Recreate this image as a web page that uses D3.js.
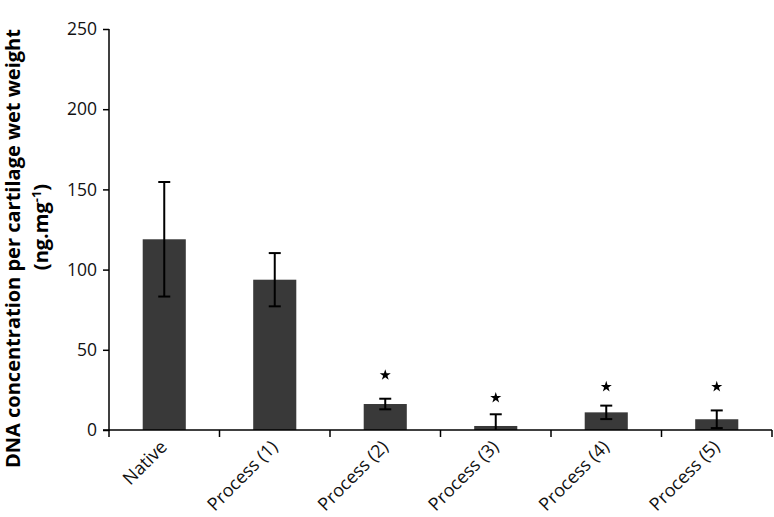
<!DOCTYPE html>
<html><head><meta charset="utf-8">
<script src="https://cdn.jsdelivr.net/npm/d3@7"></script>
<style>body{margin:0;background:#fff;}svg{display:block;}</style>
</head><body>
<svg id="c" width="774" height="517"></svg>
<script>
const categories = ["Native","Process (1)","Process (2)","Process (3)","Process (4)","Process (5)"];
const means = [118.9, 93.7, 16.2, 2.5, 11.0, 6.7];
const errors = [35.7, 16.6, 3.3, 7.3, 4.2, 5.5];
const starLevels = [null, null, 34.3, 20.1, 27.0, 27.0];
const yTicks = [0, 50, 100, 150, 200, 250];

const svg = d3.select("#c");
const font = "'Open Sans', sans-serif";
const x = d3.scaleBand().domain(categories).range([109, 772]).paddingInner(0).paddingOuter(0);
const y = d3.scaleLinear().domain([0, 250]).range([430, 29]);
const barW = x.bandwidth() * 0.39;

// bars
svg.append("g").selectAll("rect").data(categories).join("rect")
  .attr("x", (d) => x(d) + x.bandwidth()/2 - barW/2)
  .attr("y", (d,i) => y(means[i]))
  .attr("width", barW)
  .attr("height", (d,i) => y(0) - y(means[i]))
  .attr("fill", "#393939");

// error bars
const eg = svg.append("g").attr("stroke", "#000").attr("stroke-width", 2);
categories.forEach((c,i) => {
  const cx = x(c) + x.bandwidth()/2;
  const hi = means[i] + errors[i];
  const lo = Math.max(0, means[i] - errors[i]);
  eg.append("line").attr("x1", cx).attr("x2", cx).attr("y1", y(hi)).attr("y2", y(lo));
  eg.append("line").attr("x1", cx-6).attr("x2", cx+6).attr("y1", y(hi)).attr("y2", y(hi));
  if (means[i] - errors[i] > 0)
    eg.append("line").attr("x1", cx-6).attr("x2", cx+6).attr("y1", y(lo)).attr("y2", y(lo));
  if (starLevels[i] != null) {
    svg.append("path").attr("d", d3.symbol(d3.symbolStar, 38)())
      .attr("transform", `translate(${cx},${y(starLevels[i])})`)
      .attr("fill", "#000");
  }
});

// y axis
const ya = svg.append("g").attr("transform", "translate(109,0)")
  .call(d3.axisLeft(y).tickValues(yTicks).tickSize(6).tickPadding(6));
ya.select(".domain").attr("stroke", "#000").attr("stroke-width", 1.5).attr("d", "M0,29V431");
ya.selectAll(".tick line").attr("stroke", "#000").attr("stroke-width", 1.5);
ya.selectAll(".tick text").attr("font-family", font).attr("font-size", 17.5).attr("fill", "#111");

// x axis
const xa = svg.append("g").attr("transform", "translate(0,430)")
  .call(d3.axisBottom(x).tickSize(0).tickFormat(""));
xa.select(".domain").attr("stroke", "#000").attr("stroke-width", 1.5).attr("d", "M103,0H772");
xa.selectAll(".tick").remove();
const bounds = categories.map(c => x(c)).concat([x.range()[1]]);
xa.selectAll("line.sep").data(bounds).join("line").attr("class","sep")
  .attr("x1", d => d).attr("x2", d => d).attr("y1", 0).attr("y2", 7)
  .attr("stroke", "#000").attr("stroke-width", 1.5);
xa.selectAll("text.cat").data(categories).join("text").attr("class","cat")
  .attr("transform", d => `translate(${x(d)+x.bandwidth()/2+4},${18}) rotate(-45)`)
  .attr("text-anchor", "end").attr("font-family", font).attr("font-size", 18).attr("fill", "#111")
  .text(d => d);

// y label
svg.append("text").attr("transform", "translate(20,468) rotate(-90)")
  .attr("text-anchor", "start").attr("font-family", font).attr("font-weight", "bold")
  .attr("font-size", 20).attr("fill", "#000").text("DNA concentration per cartilage wet weight");
const l2 = svg.append("text").attr("transform", "translate(48,227) rotate(-90)")
  .attr("text-anchor", "middle").attr("font-family", font).attr("font-weight", "bold")
  .attr("font-size", 20).attr("fill", "#000");
l2.append("tspan").text("(ng.mg");
l2.append("tspan").attr("dy", -7).attr("font-size", 13).text("-1");
l2.append("tspan").attr("dy", 7).text(")");
</script>
</body></html>
